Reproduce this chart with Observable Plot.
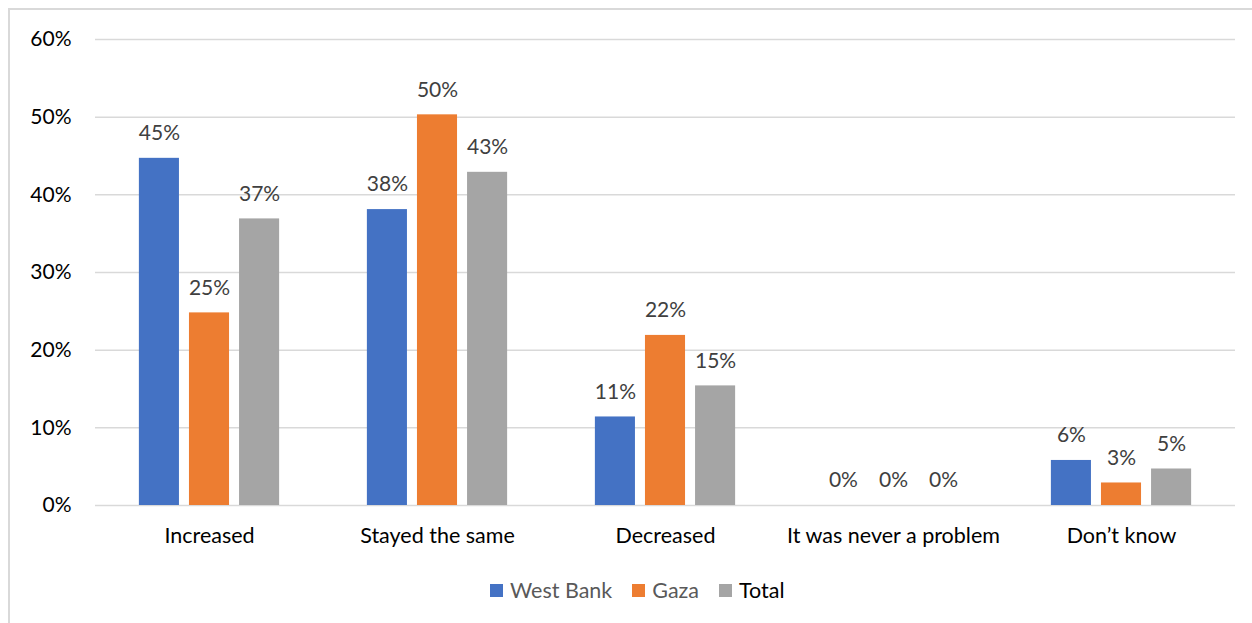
<!DOCTYPE html>
<html>
<head>
<meta charset="utf-8">
<script src="https://cdn.jsdelivr.net/npm/d3@7"></script>
<script src="https://cdn.jsdelivr.net/npm/@observablehq/plot@0.6"></script>
<style>
  html, body { margin: 0; padding: 0; background: #fff; }
  #wrap { position: relative; width: 1252px; height: 623px; overflow: hidden; font-family: Lato, "Open Sans", sans-serif; }
  #frame { position: absolute; left: 8px; top: 8px; width: 1260px; height: 640px; border-top: 2px solid #d9d9d9; border-left: 2px solid #d9d9d9; box-sizing: border-box; }
  #chart { position: absolute; left: 0; top: 0; }
  #legend { position: absolute; left: 490px; top: 577px; display: flex; align-items: center; font-size: 21.5px; }
  .item { display: flex; align-items: center; margin-right: 20px; }
  .sw { width: 13px; height: 13px; margin-right: 7px; }
</style>
</head>
<body>
<div id="wrap">
  <div id="frame"></div>
  <div id="chart"></div>
  <div id="legend"></div>
</div>
<script>
const categories = ["Increased", "Stayed the same", "Decreased", "It was never a problem", "Don\u2019t know"];
const seriesNames = ["West Bank", "Gaza", "Total"];
const colors = ["#4472C4", "#ED7D31", "#A5A5A5"];
const westBank = [44.7, 38.1, 11.4, 0, 5.8];
const gaza = [24.8, 50.3, 21.9, 0, 2.9];
const total = [36.9, 42.9, 15.4, 0, 4.7];
const yTicks = [0, 10, 20, 30, 40, 50, 60];
const legendColors = ["#595959", "#595959", "#000000"];

const seriesValues = [westBank, gaza, total];
const data = [];
categories.forEach((c, i) => {
  seriesNames.forEach((s, j) => {
    data.push({category: c, series: s, value: seriesValues[j][i]});
  });
});

const chart = Plot.plot({
  width: 1252,
  height: 560,
  marginLeft: 95,
  marginRight: 17,
  marginTop: 39,
  marginBottom: 55,
  style: {fontFamily: "Lato, 'Open Sans', sans-serif", fontSize: "21px", background: "transparent"},
  fx: {domain: categories, padding: 0, round: false, label: null, axis: "bottom", tickSize: 0, tickPadding: 22},
  x: {domain: seriesNames, paddingInner: 0.2, paddingOuter: 0.876, round: false, axis: null},
  y: {domain: [0, 60], ticks: yTicks, tickFormat: d => d + "%", label: null, tickSize: 0, tickPadding: 24},
  color: {domain: seriesNames, range: colors},
  marks: [
    Plot.gridY(yTicks, {stroke: "#d9d9d9", strokeOpacity: 1, strokeWidth: 1.5, facetAnchor: null}),
    Plot.barY(data, {fx: "category", x: "series", y: "value", fill: "series"}),
    Plot.text(data, {fx: "category", x: "series", y: "value", text: d => Math.round(d.value) + "%", dy: -25, fill: "#404040", fontSize: 21})
  ]
});
d3.select(chart).selectAll("g[aria-label='fx-axis tick label'], g[aria-label='y-axis tick label']").attr("fill", "#000");
d3.select(chart).selectAll("g[aria-label='fx-axis tick label']").attr("font-size", "21.5px");
document.getElementById("chart").appendChild(chart);

const legend = document.getElementById("legend");
seriesNames.forEach((s, i) => {
  const item = document.createElement("div");
  item.className = "item";
  item.innerHTML = `<div class="sw" style="background:${colors[i]}"></div><span style="color:${legendColors[i]}">${s}</span>`;
  legend.appendChild(item);
});
</script>
</body>
</html>
